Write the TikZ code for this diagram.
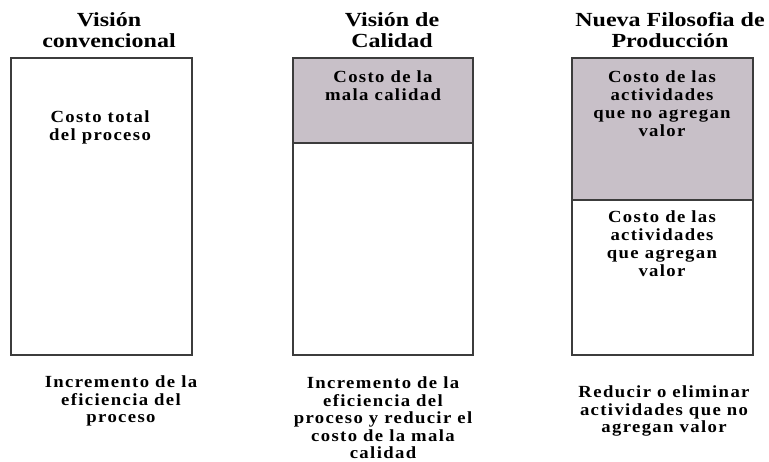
\documentclass[tikz,border=0pt]{standalone}
\usepackage{fontspec}
\setmainfont{Liberation Serif}
\newfontfamily\headfont[FakeStretch=1.2]{Liberation Serif}
\newfontfamily\notefont[FakeStretch=1.1, LetterSpace=8]{Liberation Serif}
\definecolor{costgray}{RGB}{200,192,200}
\definecolor{edgegray}{RGB}{60,60,60}

\begin{document}
\begin{tikzpicture}[x=1pt, y=-1pt,
    heading/.style={font=\headfont\bfseries\fontsize{20}{21}\selectfont, align=center},
    note/.style={font=\notefont\bfseries\fontsize{17}{18}\selectfont, align=center},
    goal/.style={font=\notefont\bfseries\fontsize{17}{17.5}\selectfont, align=center},
    column/.style={draw=edgegray, line width=1.3pt},
    waste/.style={column, fill=costgray}]
    \useasboundingbox (0,0) rectangle (769,462);

    % titles
    \node[heading] (convtitle) at (109,30) {Visión\\convencional};
    \node[heading] (qualtitle) at (392,30) {Visión de\\Calidad};
    \node[heading] (prodtitle) at (670,30) {Nueva Filosofia de\\Producción};

    % columns
    \draw[column] (11,58) rectangle (192,355);
    \draw[waste] (293,58) rectangle (473,143);
    \draw[column] (293,143) rectangle (473,355);
    \draw[waste] (572,58) rectangle (753,200);
    \draw[column] (572,200) rectangle (753,355);

    % texts inside the columns
    \node[note] (totalcost) at (100,127) {Costo total\\del proceso};
    \node[note] (badquality) at (383,86) {Costo de la\\mala calidad};
    \node[note] (novalue) at (662,104) {Costo de las\\actividades\\que no agregan\\valor};
    \node[note] (value) at (662,244) {Costo de las\\actividades\\que agregan\\valor};

    % texts below
    \node[goal] (convgoal) at (121,401) {Incremento de la\\eficiencia del\\proceso};
    \node[goal] (qualgoal) at (383,418) {Incremento de la\\eficiencia del\\proceso y reducir el\\costo de la mala\\calidad};
    \node[goal] (prodgoal) at (664,411) {Reducir o eliminar\\actividades que no\\agregan valor};
\end{tikzpicture}
\end{document}
